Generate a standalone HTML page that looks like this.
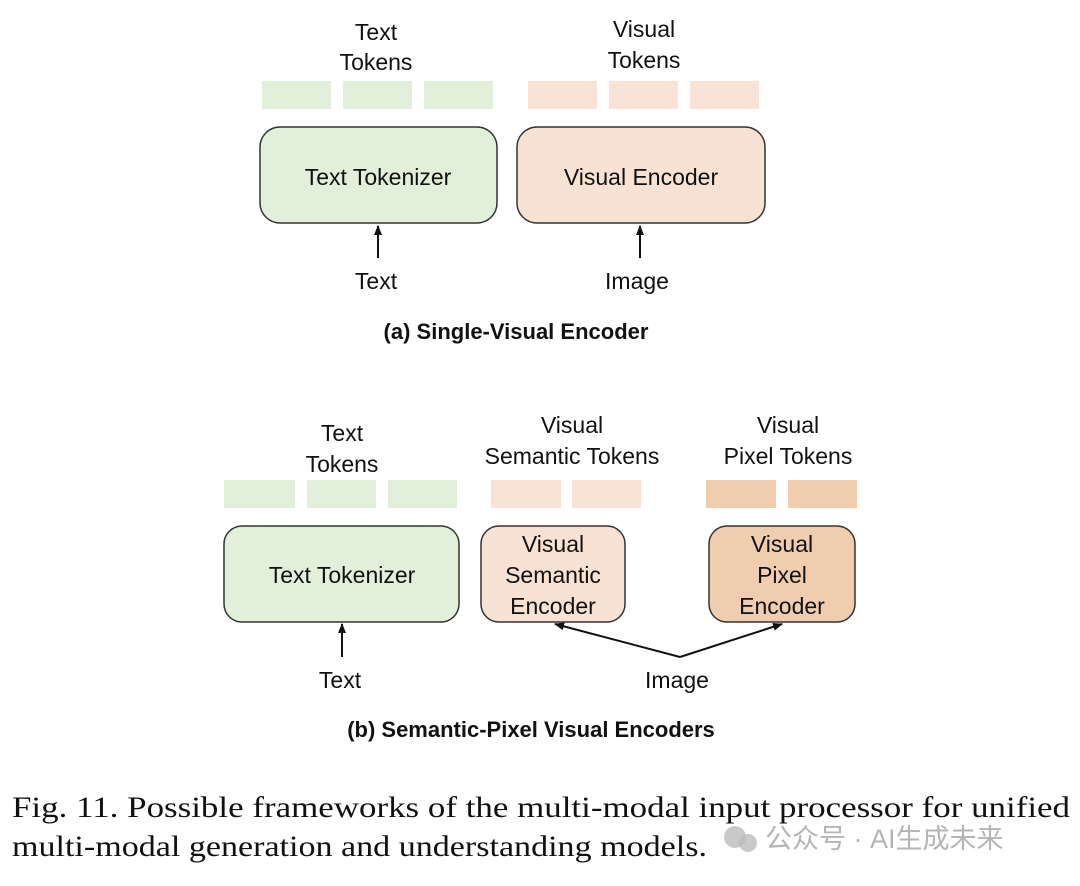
<!DOCTYPE html>
<html><head><meta charset="utf-8"><style>
body{margin:0;background:#fff;width:1080px;height:881px;overflow:hidden}
svg text{font-family:"Liberation Sans","Noto Sans CJK SC",sans-serif;fill:#111}
</style></head><body>
<svg width="1080" height="881" viewBox="0 0 1080 881" xmlns="http://www.w3.org/2000/svg">
<defs><marker id="ah" markerWidth="10" markerHeight="8" refX="9" refY="4" orient="auto" markerUnits="userSpaceOnUse"><path d="M0,0 L10,4 L0,8 Z" fill="#111"/></marker></defs>
<g font-size="23" text-anchor="middle">
<!-- (a) -->
<text x="376" y="40">Text</text><text x="376" y="70">Tokens</text>
<text x="644" y="37">Visual</text><text x="644" y="68">Tokens</text>
<g fill="#e2efda"><rect x="262" y="81" width="69" height="28"/><rect x="343" y="81" width="69" height="28"/><rect x="424" y="81" width="69" height="28"/></g>
<g fill="#f9e3d6"><rect x="528" y="81" width="69" height="28"/><rect x="609" y="81" width="69" height="28"/><rect x="690" y="81" width="69" height="28"/></g>
<rect x="260" y="127" width="237" height="96" rx="20" fill="#e2efda" stroke="#333" stroke-width="1.5"/>
<rect x="517" y="127" width="248" height="96" rx="20" fill="#f8e2d4" stroke="#333" stroke-width="1.5"/>
<text x="378" y="185">Text Tokenizer</text><text x="641" y="185">Visual Encoder</text>
<line x1="378" y1="258" x2="378" y2="226" stroke="#111" stroke-width="2" marker-end="url(#ah)"/>
<line x1="640" y1="258" x2="640" y2="226" stroke="#111" stroke-width="2" marker-end="url(#ah)"/>
<text x="376" y="289">Text</text><text x="637" y="289">Image</text>
<text x="516" y="339" font-weight="bold" font-size="22">(a) Single-Visual Encoder</text>
<!-- (b) -->
<text x="342" y="441">Text</text><text x="342" y="472">Tokens</text>
<text x="572" y="433">Visual</text><text x="572" y="464">Semantic Tokens</text>
<text x="788" y="433">Visual</text><text x="788" y="464">Pixel Tokens</text>
<g fill="#e2efda"><rect x="224" y="480" width="71" height="28"/><rect x="307" y="480" width="69" height="28"/><rect x="388" y="480" width="69" height="28"/></g>
<g fill="#f9e3d6"><rect x="491" y="480" width="70" height="28"/><rect x="572" y="480" width="69" height="28"/></g>
<g fill="#f1cdb0"><rect x="706" y="480" width="70" height="28"/><rect x="788" y="480" width="69" height="28"/></g>
<rect x="224" y="526" width="235" height="96" rx="18" fill="#e2efda" stroke="#333" stroke-width="1.5"/>
<rect x="481" y="526" width="144" height="96" rx="18" fill="#f8e2d4" stroke="#333" stroke-width="1.5"/>
<rect x="709" y="526" width="146" height="96" rx="18" fill="#f1cdb0" stroke="#333" stroke-width="1.5"/>
<text x="342" y="583">Text Tokenizer</text>
<text x="553" y="552">Visual</text><text x="553" y="583">Semantic</text><text x="553" y="614">Encoder</text>
<text x="782" y="552">Visual</text><text x="782" y="583">Pixel</text><text x="782" y="614">Encoder</text>
<line x1="342" y1="657" x2="342" y2="624" stroke="#111" stroke-width="2" marker-end="url(#ah)"/>
<line x1="680" y1="657" x2="555" y2="624" stroke="#111" stroke-width="2" marker-end="url(#ah)"/>
<line x1="680" y1="657" x2="782" y2="624" stroke="#111" stroke-width="2" marker-end="url(#ah)"/>
<text x="340" y="688">Text</text><text x="677" y="688">Image</text>
<text x="531" y="737" font-weight="bold" font-size="22">(b) Semantic-Pixel Visual Encoders</text>
</g>
<g font-size="30" style="font-family:'Liberation Serif',serif" text-anchor="start">
<text x="12" y="817" style="font-family:'Liberation Serif',serif" textLength="1058" lengthAdjust="spacingAndGlyphs">Fig. 11.  Possible frameworks of the multi-modal input processor for unified</text>
<text x="12" y="856" style="font-family:'Liberation Serif',serif" textLength="695" lengthAdjust="spacingAndGlyphs">multi-modal generation and understanding models.</text>
</g>
<circle cx="735" cy="837" r="11" fill="#bbb" opacity="0.8"/><circle cx="748" cy="843" r="9" fill="#bbb" opacity="0.8"/>
<text x="765" y="848" font-size="27" style="fill:#b5b5b5">公众号 · AI生成未来</text>
</svg>
</body></html>
